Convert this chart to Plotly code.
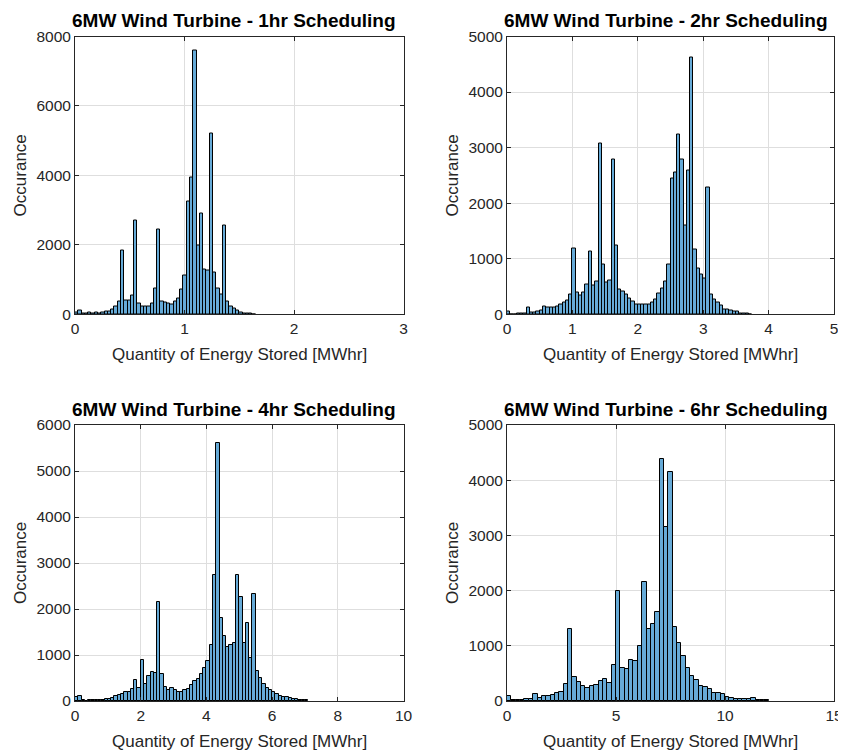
import numpy as np
import plotly.graph_objects as go

# ---------------- data (histogram counts per bin) ----------------
bin_width_1h = 0.03
counts_1h = [50, 100, 30, 30, 60, 30, 60, 30, 60, 70, 70, 140, 220, 360, 1850, 390, 390, 550,
             2700, 310, 220, 220, 220, 300, 750, 2450, 360, 330, 300, 270, 360, 450, 720, 1120,
             3250, 3950, 7600, 1980, 2900, 1290, 1250, 5200, 1200, 740, 580, 2550, 360, 220,
             170, 100, 50, 20, 10, 10, 5]

bin_width_2h = 0.05
counts_2h = [45, 0, 0, 8, 8, 8, 115, 35, 35, 50, 70, 135, 120, 130, 130, 135, 170, 205, 245,
             355, 1180, 400, 340, 400, 540, 1130, 510, 590, 3070, 890, 580, 610, 2790, 1235,
             450, 410, 350, 290, 230, 180, 180, 180, 180, 180, 210, 260, 380, 470, 590, 900,
             2450, 2550, 3240, 2790, 1600, 2580, 4630, 1160, 830, 710, 650, 2280, 350, 270,
             210, 150, 90, 80, 60, 50, 50, 15, 10, 10, 5]

bin_width_4h = 0.1
counts_4h = [80, 110, 20, 5, 15, 15, 15, 20, 20, 50, 50, 60, 110, 130, 145, 200, 200, 260, 460,
             290, 890, 370, 540, 640, 600, 2150, 580, 310, 250, 290, 240, 200, 200, 240, 260,
             350, 430, 470, 580, 710, 860, 1220, 2750, 5600, 1810, 1420, 1180, 1220, 1270, 2750,
             2270, 1270, 1700, 930, 2330, 660, 490, 380, 290, 240, 190, 145, 115, 95, 80, 60,
             50, 45, 30, 15, 15]

bin_width_6h = 0.2
counts_6h = [90, 15, 15, 15, 45, 45, 120, 60, 85, 85, 117, 142, 166, 308, 1310, 432, 340, 272,
             241, 272, 290, 364, 395, 321, 648, 1985, 600, 575, 750, 725, 990, 2160, 1313, 1386,
             1614, 4386, 3150, 4157, 1343, 1042, 813, 590, 452, 380, 277, 247, 211, 150, 139,
             120, 78, 48, 42, 42, 42, 30, 48, 18, 18, 18]

titles = ["6MW Wind Turbine - 1hr Scheduling", "6MW Wind Turbine - 2hr Scheduling",
          "6MW Wind Turbine - 4hr Scheduling", "6MW Wind Turbine - 6hr Scheduling"]
x_label = "Quantity of Energy Stored [MWhr]"
y_label = "Occurance"

x_ranges = [[0, 3], [0, 5], [0, 10], [0, 15]]
x_dticks = [1, 1, 2, 5]
y_ranges = [[0, 8000], [0, 5000], [0, 6000], [0, 5000]]
y_dticks = [2000, 1000, 1000, 1000]

# ---------------- layout geometry (pixels of the 846x751 window) ----------------
PAGE_MARGIN = 8                      # default body margin of the browser page
W, H = 846 - PAGE_MARGIN, 751 - PAGE_MARGIN
col_px = [(75, 403.5), (507, 834)]
row_px = [(36.5, 314.3), (425, 701)]

def px_x(p):
    return (p - PAGE_MARGIN) / W

def px_y(p):
    return 1 - (p - PAGE_MARGIN) / H

FONT = "Liberation Sans, Arial, Helvetica, sans-serif"
TXT = "#262626"
BAR_FILL = "rgb(102,170,215)"

fig = go.Figure()
series = [(counts_1h, bin_width_1h), (counts_2h, bin_width_2h),
          (counts_4h, bin_width_4h), (counts_6h, bin_width_6h)]

annotations = []
for i, (counts, bw) in enumerate(series):
    r, c = divmod(i, 2)
    centers = (np.arange(len(counts)) + 0.5) * bw
    xa = "x" if i == 0 else f"x{i+1}"
    ya = "y" if i == 0 else f"y{i+1}"
    fig.add_trace(go.Bar(x=centers, y=counts, width=bw, xaxis=xa, yaxis=ya,
                         marker=dict(color=BAR_FILL, line=dict(color="#000000", width=1)),
                         showlegend=False, hoverinfo="x+y"))
    ax_common = dict(showline=True, linecolor=TXT, linewidth=1, mirror="ticks",
                     ticks="inside", ticklen=4, tickcolor=TXT, showgrid=True,
                     gridcolor="#dedede", gridwidth=1, zeroline=False, automargin=False,
                     ticklabeloverflow="allow",
                     tickfont=dict(family=FONT, size=15.5, color=TXT))
    xkey = "xaxis" if i == 0 else f"xaxis{i+1}"
    ykey = "yaxis" if i == 0 else f"yaxis{i+1}"
    x0, x1 = col_px[c]
    t0, t1 = row_px[r]
    fig.update_layout(**{
        xkey: dict(ax_common, domain=[px_x(x0), px_x(x1)], range=x_ranges[i],
                   tick0=0, dtick=x_dticks[i], anchor=ya),
        ykey: dict(ax_common, domain=[px_y(t1), px_y(t0)], range=y_ranges[i],
                   tick0=0, dtick=y_dticks[i], anchor=xa),
    })
    annotations.append(dict(text=titles[i], xref="paper", yref="paper",
                            x=px_x((x0 + x1) / 2 - 5), y=px_y(t0 - 16),
                            xanchor="center", yanchor="middle", showarrow=False,
                            font=dict(family=FONT, size=19, color="#000000", weight="bold")))
    annotations.append(dict(text=x_label, xref="paper", yref="paper",
                            x=px_x((x0 + x1) / 2), y=px_y(t1 + 40),
                            xanchor="center", yanchor="middle", showarrow=False,
                            font=dict(family=FONT, size=17, color=TXT)))
    annotations.append(dict(text=y_label, xref="paper", yref="paper",
                            x=px_x(x0 - 55), y=px_y((t0 + t1) / 2), textangle=-90,
                            xanchor="center", yanchor="middle", showarrow=False,
                            font=dict(family=FONT, size=17, color=TXT)))

fig.update_layout(width=W, height=H, margin=dict(l=0, r=0, t=0, b=0, autoexpand=False),
                  paper_bgcolor="white", plot_bgcolor="white", bargap=0,
                  annotations=annotations)

fig.write_html("out.html")
